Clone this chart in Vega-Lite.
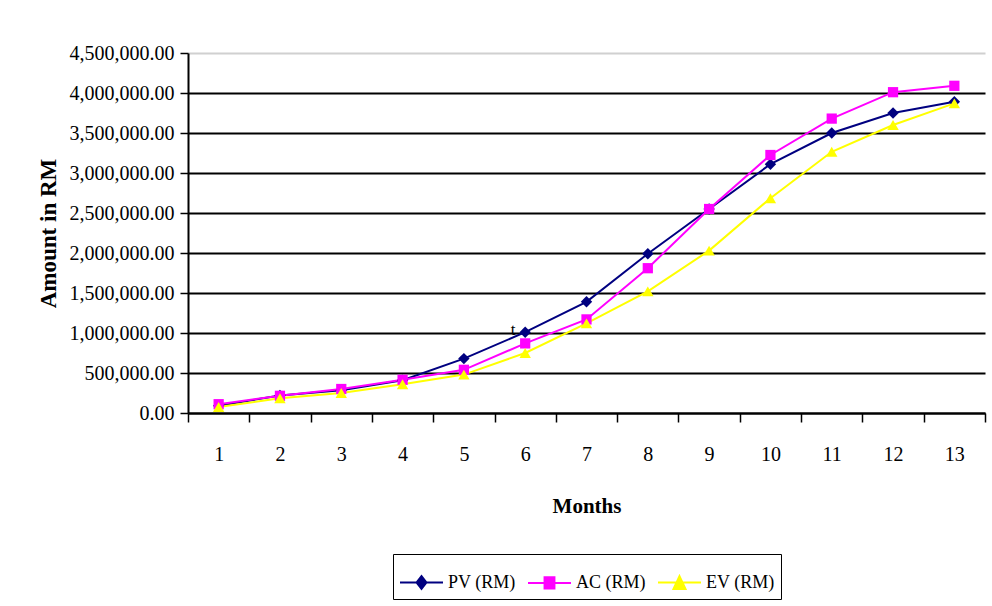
{
  "$schema": "https://vega.github.io/schema/vega-lite/v6.json",
  "width": 797,
  "height": 360,
  "autosize": "none",
  "padding": {"left": 188, "top": 53, "right": 7, "bottom": 193},
  "background": "white",
  "config": {
    "view": {"stroke": null},
    "font": "Liberation Serif"
  },
  "data": {"name": "main"},
  "encoding": {
    "x": {
      "field": "month", "type": "ordinal",
      "scale": {"type": "band", "paddingInner": 0, "paddingOuter": 0},
      "axis": {
        "tickBand": "extent", "labelAngle": 0, "grid": false,
        "tickSize": 9, "tickWidth": 1.5, "tickColor": "black",
        "domainColor": "black", "domainWidth": 2,
        "labelFont": "Liberation Serif", "labelFontSize": 20, "labelColor": "black", "labelPadding": 22,
        "title": "Months", "titleFont": "Liberation Serif", "titleFontSize": 21, "titleFontWeight": "bold", "titleColor": "black", "titlePadding": 31
      }
    },
    "y": {
      "field": "value", "type": "quantitative",
      "scale": {"domain": [0, 4500000], "nice": false},
      "axis": {
        "values": [0, 500000, 1000000, 1500000, 2000000, 2500000, 3000000, 3500000, 4000000, 4500000],
        "labelOverlap": false,
        "labelBound": false,
        "format": ",.2f",
        "grid": true,
        "gridColor": {"condition": {"test": "datum.value >= 4500000", "value": "#d0d0d0"}, "value": "black"},
        "gridWidth": 2,
        "tickSize": 8, "tickWidth": 1.5, "tickColor": "black",
        "domainColor": "black", "domainWidth": 2,
        "labelFont": "Liberation Serif", "labelFontSize": 20, "labelColor": "black", "labelPadding": 6,
        "title": "Amount in RM", "titleFont": "Liberation Serif", "titleFontSize": 23, "titleFontWeight": "bold", "titleColor": "black", "titlePadding": 9
      }
    }
  },
  "layer": [
    {
      "mark": {"type": "line", "strokeWidth": 2},
      "encoding": {
        "color": {
          "field": "series", "type": "nominal",
          "scale": {"domain": ["PV (RM)", "AC (RM)", "EV (RM)"], "range": ["#000080", "#FF00FF", "#FFFF00"]},
          "legend": {
            "orient": "none", "legendX": 205, "legendY": 501,
            "direction": "horizontal", "title": null,
            "strokeColor": "black", "padding": 6,
            "symbolSize": 1849, "symbolStrokeWidth": 2,
            "labelFont": "Liberation Serif", "labelFontSize": 18, "labelColor": "black", "labelOffset": 4,
            "columnPadding": 8,
            "encode": {
              "symbols": {
                "update": {
                  "shape": {"signal": "datum.value === 'PV (RM)' ? 'M-1,0H1M0,-0.3L0.23,0L0,0.3L-0.23,0Z' : datum.value === 'AC (RM)' ? 'M-1,0H1M-0.23,-0.26H0.23V0.26H-0.23Z' : 'M-1,0H1M0,-0.3L0.28,0.3H-0.28Z'"},
                  "fill": {"signal": "datum.value === 'PV (RM)' ? '#000080' : datum.value === 'AC (RM)' ? '#FF00FF' : '#FFFF00'"},
                  "stroke": {"signal": "datum.value === 'PV (RM)' ? '#000080' : datum.value === 'AC (RM)' ? '#FF00FF' : '#FFFF00'"},
                  "strokeWidth": {"value": 2},
                  "opacity": {"value": 1},
                  "fillOpacity": {"value": 1}
                }
              }
            }
          }
        }
      }
    },
    {
      "transform": [{"filter": "datum.series === 'PV (RM)'"}],
      "mark": {"type": "point", "filled": true, "opacity": 1, "size": 130, "shape": "diamond", "color": "#000080"}
    },
    {
      "transform": [{"filter": "datum.series === 'AC (RM)'"}],
      "mark": {"type": "point", "filled": true, "opacity": 1, "size": 105, "shape": "square", "color": "#FF00FF"}
    },
    {
      "transform": [{"filter": "datum.series === 'EV (RM)'"}],
      "mark": {"type": "point", "filled": true, "opacity": 1, "size": 130, "shape": "triangle-up", "color": "#FFFF00"}
    },
    {
      "data": {"values": [{"month": 6, "value": 1040000, "label": "t"}]},
      "mark": {"type": "text", "dx": -12, "fontSize": 17, "font": "Liberation Serif", "color": "black"},
      "encoding": {
        "text": {"field": "label"}
      }
    }
  ],
  "datasets": {
    "main": [
      {"month": 1, "series": "PV (RM)", "value": 90000},
      {"month": 2, "series": "PV (RM)", "value": 220000},
      {"month": 3, "series": "PV (RM)", "value": 285000},
      {"month": 4, "series": "PV (RM)", "value": 410000},
      {"month": 5, "series": "PV (RM)", "value": 680000},
      {"month": 6, "series": "PV (RM)", "value": 1010000},
      {"month": 7, "series": "PV (RM)", "value": 1390000},
      {"month": 8, "series": "PV (RM)", "value": 1990000},
      {"month": 9, "series": "PV (RM)", "value": 2550000},
      {"month": 10, "series": "PV (RM)", "value": 3110000},
      {"month": 11, "series": "PV (RM)", "value": 3500000},
      {"month": 12, "series": "PV (RM)", "value": 3750000},
      {"month": 13, "series": "PV (RM)", "value": 3890000},
      {"month": 1, "series": "AC (RM)", "value": 110000},
      {"month": 2, "series": "AC (RM)", "value": 215000},
      {"month": 3, "series": "AC (RM)", "value": 300000},
      {"month": 4, "series": "AC (RM)", "value": 415000},
      {"month": 5, "series": "AC (RM)", "value": 540000},
      {"month": 6, "series": "AC (RM)", "value": 870000},
      {"month": 7, "series": "AC (RM)", "value": 1170000},
      {"month": 8, "series": "AC (RM)", "value": 1810000},
      {"month": 9, "series": "AC (RM)", "value": 2550000},
      {"month": 10, "series": "AC (RM)", "value": 3225000},
      {"month": 11, "series": "AC (RM)", "value": 3680000},
      {"month": 12, "series": "AC (RM)", "value": 4010000},
      {"month": 13, "series": "AC (RM)", "value": 4090000},
      {"month": 1, "series": "EV (RM)", "value": 75000},
      {"month": 2, "series": "EV (RM)", "value": 185000},
      {"month": 3, "series": "EV (RM)", "value": 250000},
      {"month": 4, "series": "EV (RM)", "value": 360000},
      {"month": 5, "series": "EV (RM)", "value": 480000},
      {"month": 6, "series": "EV (RM)", "value": 750000},
      {"month": 7, "series": "EV (RM)", "value": 1120000},
      {"month": 8, "series": "EV (RM)", "value": 1520000},
      {"month": 9, "series": "EV (RM)", "value": 2030000},
      {"month": 10, "series": "EV (RM)", "value": 2685000},
      {"month": 11, "series": "EV (RM)", "value": 3265000},
      {"month": 12, "series": "EV (RM)", "value": 3600000},
      {"month": 13, "series": "EV (RM)", "value": 3870000}
    ]
  }
}
